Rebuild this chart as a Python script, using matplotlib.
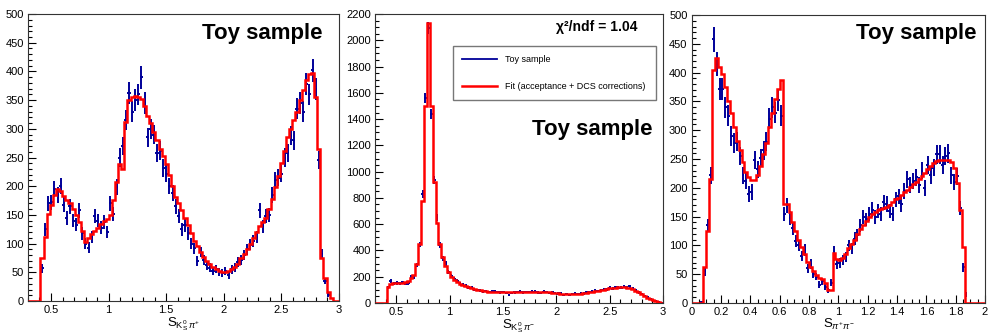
import numpy as np
import matplotlib
matplotlib.use("Agg")
import matplotlib.pyplot as plt
from matplotlib.ticker import MultipleLocator, FuncFormatter
from matplotlib.lines import Line2D

plt.rcParams['font.family'] = ['Liberation Sans', 'DejaVu Sans']
plt.rcParams['mathtext.fontset'] = 'custom'
plt.rcParams['mathtext.rm'] = 'Liberation Sans'
plt.rcParams['mathtext.it'] = 'Liberation Sans:italic'
plt.rcParams['mathtext.sf'] = 'Liberation Sans'

# ---- data (100 bins each) ----
kspip_edges = np.linspace(0.3, 3.0, 101)
kspip_fit = [0, 0, 0, 0, 75, 112, 152, 168, 185, 196,
             192, 183, 176, 170, 160, 150, 138, 122, 102, 110,
             116, 122, 128, 134, 140, 142, 150, 176, 208, 238,
             230, 312, 350, 355, 358, 355, 352, 340, 322, 310,
             295, 280, 265, 252, 238, 220, 200, 182, 170, 158,
             145, 132, 118, 105, 95, 85, 77, 70, 64, 59,
             55, 52, 50, 50, 52, 56, 60, 65, 75, 82,
             90, 100, 110, 120, 130, 137, 145, 160, 178, 198,
             218, 240, 262, 285, 300, 315, 330, 350, 368, 385,
             395, 398, 355, 265, 75, 40, 16, 5, 0, 0]
kspip_toy = [0, 0, 0, 0, 57, 125, 170, 172, 195, 185,
             200, 168, 145, 165, 140, 133, 158, 118, 100, 93,
             112, 148, 140, 128, 138, 120, 170, 152, 198, 250,
             270, 315, 362, 330, 350, 360, 390, 345, 285, 300,
             290, 258, 262, 232, 222, 200, 188, 165, 148, 125,
             132, 118, 100, 92, 70, 85, 72, 62, 58, 52,
             56, 50, 49, 52, 45, 55, 58, 68, 72, 80,
             90, 98, 105, 112, 158, 130, 148, 150, 185, 210,
             215, 222, 250, 258, 288, 280, 335, 345, 330, 378,
             360, 402, 370, 245, 82, 35, 10, 0, 0, 0]

kspim_edges = np.linspace(0.3, 3.0, 101)
kspim_fit = [0, 0, 0, 0, 125, 145, 150, 152, 155, 155,
             160, 168, 190, 215, 300, 450, 780, 1500, 2130, 1500,
             918, 606, 450, 350, 285, 235, 200, 178, 160, 147,
             136, 127, 119, 112, 106, 101, 97, 93, 90, 87,
             85, 83, 82, 81, 80, 80, 80, 80, 80, 81,
             81, 82, 82, 83, 83, 83, 83, 82, 82, 81,
             80, 78, 76, 74, 72, 70, 69, 68, 68, 69,
             70, 72, 74, 77, 80, 84, 88, 92, 97, 102,
             107, 111, 114, 117, 119, 120, 120, 118, 114, 106,
             95, 82, 66, 52, 40, 30, 21, 13, 7, 2]
kspim_toy = [0, 0, 0, 0, 118, 168, 148, 152, 150, 158,
             148, 152, 198, 195, 290, 445, 830, 1560, 2090, 1440,
             940, 650, 440, 340, 302, 238, 205, 182, 168, 150,
             138, 130, 118, 115, 102, 100, 95, 88, 92, 84,
             86, 88, 82, 80, 84, 75, 60, 76, 80, 82,
             86, 80, 84, 82, 88, 86, 80, 78, 86, 82,
             78, 84, 78, 72, 74, 62, 68, 64, 70, 72,
             68, 75, 72, 80, 82, 86, 95, 90, 100, 105,
             104, 118, 110, 120, 115, 118, 125, 116, 126, 108,
             98, 80, 68, 50, 42, 30, 20, 12, 6, 2]

pipi_edges = np.linspace(0.0, 2.0, 101)
pipi_fit = [0, 0, 0, 0, 62, 125, 216, 405, 425, 410,
            398, 375, 350, 330, 305, 282, 265, 245, 228, 218,
            214, 214, 222, 238, 258, 278, 305, 330, 355, 372,
            388, 172, 172, 158, 140, 125, 110, 97, 85, 72,
            63, 55, 48, 44, 42, 35, 22, 22, 87, 76,
            74, 78, 85, 95, 102, 110, 120, 128, 135, 142,
            150, 155, 158, 161, 163, 165, 166, 170, 175, 180,
            183, 187, 192, 197, 202, 206, 210, 215, 220, 226,
            232, 238, 243, 247, 248, 248, 248, 248, 244, 234,
            208, 161, 98, 0, 0, 0, 0, 0, 0, 0]
pipi_toy = [0, 0, 0, 2, 55, 135, 222, 458, 415, 372,
            372, 340, 325, 290, 278, 280, 255, 222, 212, 190,
            192, 248, 232, 252, 265, 280, 320, 340, 330, 352,
            325, 155, 170, 148, 130, 108, 100, 82, 92, 60,
            68, 50, 46, 32, 38, 28, 22, 35, 90, 68,
            70, 75, 80, 100, 95, 112, 118, 135, 150, 145,
            155, 162, 150, 160, 155, 175, 172, 160, 155, 180,
            185, 172, 195, 215, 205, 212, 218, 205, 230, 200,
            240, 222, 235, 258, 258, 240, 255, 260, 222, 210,
            220, 165, 62, 15, 0, 0, 0, 0, 0, 0]

BLUE = '#000099'
RED = '#ff0000'

fmt = FuncFormatter(lambda v, p: '%g' % round(v, 6))


def draw(ax, edges, toy, fit, xlim, ylim, xmaj, xmin, ymaj, ymin, xlabel):
    toy = np.array(toy, dtype=float)
    fit = np.array(fit, dtype=float)
    centers = 0.5 * (edges[1:] + edges[:-1])
    half = 0.5 * (edges[1] - edges[0])
    m = toy > 0
    ax.errorbar(centers[m], toy[m], yerr=np.sqrt(toy[m]), xerr=half,
                fmt='none', ecolor=BLUE, elinewidth=1.4, capsize=0, zorder=2)
    ax.stairs(fit, edges, color=RED, lw=1.8, zorder=3)
    ax.set_xlim(*xlim)
    ax.set_ylim(*ylim)
    ax.xaxis.set_major_locator(MultipleLocator(xmaj))
    ax.xaxis.set_minor_locator(MultipleLocator(xmin))
    ax.yaxis.set_major_locator(MultipleLocator(ymaj))
    ax.yaxis.set_minor_locator(MultipleLocator(ymin))
    ax.xaxis.set_major_formatter(fmt)
    ax.tick_params(which='both', direction='in', labelsize=8, width=0.8)
    ax.tick_params(which='major', length=6, pad=3)
    ax.tick_params(which='minor', length=3)
    for s in ax.spines.values():
        s.set_linewidth(0.8)
        s.set_color('#333333')
    ax.set_xlabel(xlabel, fontsize=9.5, labelpad=0)


fig = plt.figure(figsize=(9.88, 3.36), dpi=100)
ax1 = fig.add_axes([0.0283, 0.1042, 0.3148, 0.854])
ax2 = fig.add_axes([0.3796, 0.0982, 0.2915, 0.860])
ax3 = fig.add_axes([0.7001, 0.0982, 0.2969, 0.857])

draw(ax1, kspip_edges, kspip_toy, kspip_fit, (0.3, 3.0), (0, 500), 0.5, 0.1, 50, 10,
     r'$\mathrm{S}_{\mathrm{K}^{0}_{\mathrm{S}}\,\pi^{+}}$')
draw(ax2, kspim_edges, kspim_toy, kspim_fit, (0.3, 3.0), (0, 2200), 0.5, 0.1, 200, 50,
     r'$\mathrm{S}_{\mathrm{K}^{0}_{\mathrm{S}}\,\pi^{-}}$')
draw(ax3, pipi_edges, pipi_toy, pipi_fit, (0.0, 2.0), (0, 500), 0.2, 0.05, 50, 10,
     r'$\mathrm{S}_{\pi^{+}\pi^{-}}$')

ax1.text(0.948, 0.912, 'Toy sample', transform=ax1.transAxes, ha='right',
         va='baseline', fontsize=16, fontweight='bold')
ax2.text(0.964, 0.581, 'Toy sample', transform=ax2.transAxes, ha='right',
         va='baseline', fontsize=16, fontweight='bold')
ax3.text(0.972, 0.916, 'Toy sample', transform=ax3.transAxes, ha='right',
         va='baseline', fontsize=16, fontweight='bold')
ax2.text(0.913, 0.942, 'χ²/ndf = 1.04', transform=ax2.transAxes, ha='right',
         va='baseline', fontsize=10, fontweight='bold')

handles = [Line2D([], [], color=BLUE, lw=1.3), Line2D([], [], color=RED, lw=1.8)]
leg = ax2.legend(handles, ['Toy sample', 'Fit (acceptance + DCS corrections)'],
                 loc='upper left', bbox_to_anchor=(0.271, 0.689, 0.705, 0.2),
                 mode='expand', fontsize=6.5, frameon=True, fancybox=False,
                 edgecolor='#555555', borderpad=1.0, labelspacing=2.0,
                 handlelength=3.9, handletextpad=0.9, borderaxespad=0)
leg.get_frame().set_linewidth(1.0)

fig.savefig('out.png', dpi=100)
